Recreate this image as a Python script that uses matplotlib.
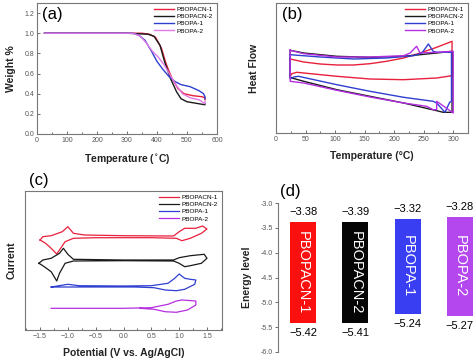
import numpy as np
import matplotlib
matplotlib.use("Agg")
import matplotlib.pyplot as plt

plt.rcParams['font.family'] = ['Liberation Sans', 'DejaVu Sans']

names = ['PBOPACN-1', 'PBOPACN-2', 'PBOPA-1', 'PBOPA-2']

# (a) TGA
tga_T = {
    'PBOPACN-1': [25, 100, 200, 300, 350, 375, 395, 415, 430, 450, 470, 490, 520, 550, 560, 560],
    'PBOPACN-2': [25, 100, 200, 300, 370, 390, 410, 425, 445, 465, 480, 500, 540, 560, 560],
    'PBOPA-1': [25, 100, 200, 300, 320, 340, 360, 380, 400, 420, 440, 460, 480, 510, 540, 555, 560, 560],
    'PBOPA-2': [25, 100, 200, 300, 320, 345, 365, 385, 405, 425, 445, 465, 485, 510, 540, 560, 560],
}
tga_w = {
    'PBOPACN-1': [1.0, 1.0, 1.0, 1.0, 1.0, 0.99, 0.96, 0.85, 0.70, 0.55, 0.45, 0.40, 0.38, 0.37, 0.36, 0.34],
    'PBOPACN-2': [1.0, 1.0, 1.0, 1.0, 0.99, 0.97, 0.88, 0.72, 0.55, 0.42, 0.35, 0.32, 0.30, 0.29, 0.30],
    'PBOPA-1': [1.0, 1.0, 1.0, 1.0, 1.0, 0.98, 0.93, 0.83, 0.72, 0.64, 0.57, 0.52, 0.49, 0.47, 0.43, 0.40, 0.37, 0.35],
    'PBOPA-2': [1.0, 1.0, 1.0, 1.0, 1.0, 0.97, 0.90, 0.82, 0.76, 0.68, 0.58, 0.48, 0.40, 0.36, 0.34, 0.30, 0.32],
}

# (b) DSC loops (a.u.)
dsc_T = {
    'PBOPACN-1': [24, 47, 75, 103, 131, 159, 187, 216, 244, 272, 298, 298, 272, 216, 159, 103, 47, 35, 27, 24, 24],
    'PBOPACN-2': [24, 47, 103, 159, 216, 244, 272, 298, 298, 283, 272, 216, 159, 103, 47, 27, 24, 24],
    'PBOPA-1': [24, 75, 131, 187, 233, 247, 258, 266, 272, 297, 297, 294, 286, 272, 266, 216, 159, 103, 38, 30, 24, 24],
    'PBOPA-2': [24, 47, 103, 159, 216, 227, 238, 244, 272, 300, 300, 272, 272, 266, 255, 216, 159, 103, 47, 24, 24],
}
dsc_h = {
    'PBOPACN-1': [74, 71, 69, 68, 68, 69.3, 71.7, 75, 80, 85.7, 91.7, 57.3, 55, 53.3, 54, 56.7, 60, 60.7, 59.3, 56.7, 74],
    'PBOPACN-2': [82.7, 80, 76.7, 75.7, 76.7, 78.3, 80, 81.7, 20.7, 20.7, 22.3, 30, 36.7, 43.3, 51.7, 55, 56, 82.7],
    'PBOPA-1': [78.3, 76, 74, 75, 77.3, 80, 89, 81.7, 80.7, 80.7, 31.7, 30.7, 20.7, 30, 31.7, 35.7, 41.7, 48.3, 56.7, 56, 54, 78.3],
    'PBOPA-2': [82.7, 79.3, 76, 76, 77.3, 80, 86.7, 80, 80.7, 81.7, 20, 31.7, 23.3, 23.3, 26.7, 30, 36, 42.7, 50, 51.7, 82.7],
}

# (c) CV loops (a.u.)
cv_E = {
    'PBOPACN-1': [-1.5, -1.45, -1.3, -1.1, -1.0, -0.9, -0.7, 0.0, 0.9, 1.0, 1.1, 1.3, 1.42, 1.5, 1.4, 1.2, 1.05, 0.95, 0.5, -0.5, -0.9, -1.05, -1.15, -1.2, -1.3, -1.4, -1.5],
    'PBOPACN-2': [-1.52, -1.45, -1.3, -1.15, -1.08, -1.0, -0.9, 0.0, 0.9, 1.0, 1.2, 1.45, 1.5, 1.4, 1.2, 1.1, 1.0, 0.9, 0.0, -0.9, -1.05, -1.15, -1.2, -1.3, -1.45, -1.52],
    'PBOPA-1': [-1.3, -1.0, -0.8, 0.0, 0.5, 0.8, 0.92, 1.0, 1.1, 1.2, 1.3, 1.28, 1.1, 0.95, 0.75, 0.55, 0.2, -1.3],
    'PBOPA-2': [-1.3, 0.0, 0.5, 0.8, 0.95, 1.05, 1.3, 1.3, 1.15, 0.95, 0.75, 0.55, 0.3],
}
cv_i = {
    'PBOPACN-1': [90, 93.3, 94.3, 98.3, 103.3, 96.7, 95, 94.3, 94, 98.3, 101.7, 101.7, 104, 101, 96.7, 91.7, 89.3, 91.7, 92.3, 92.3, 91.7, 88.3, 80, 76, 81.7, 86.7, 90],
    'PBOPACN-2': [66.7, 70, 71.7, 76.7, 81.7, 75.7, 70.7, 70, 70, 72.3, 74.3, 75.7, 71.7, 66.7, 64.3, 63.3, 66.7, 69, 69.3, 69, 66.7, 56.7, 49, 58.3, 64.3, 66.7],
    'PBOPA-1': [43, 45.7, 44.3, 44, 44.3, 46.7, 51.7, 56, 51.7, 50.7, 50, 45.7, 40.7, 39.3, 40, 42.3, 43, 43],
    'PBOPA-2': [21.7, 21.7, 22.3, 25.7, 29, 30, 29, 25, 20, 17.7, 18.3, 20.7, 21.7],
}

# (d) energy levels
lumo = [-3.38, -3.39, -3.32, -3.28]
homo = [-5.42, -5.41, -5.24, -5.27]

line_a = ['#e8203c', '#1a1a1a', '#2f3fd0', '#e07ae6']
line_b = ['#e8203c', '#1a1a1a', '#2f3fd0', '#b52ee0']
bar_colors = ['#fb1010', '#050505', '#3a3ef2', '#b447ee']

W, H = 474, 358
fig = plt.figure(figsize=(W / 100, H / 100), dpi=100)


def box(l, t, r, b):
    return [l / W, 1 - b / H, (r - l) / W, (b - t) / H]


def style(ax):
    for s in ax.spines.values():
        s.set_color('#777777')
        s.set_linewidth(0.8)
    ax.tick_params(which='both', direction='in', labelsize=5, colors='#555555',
                   length=2, width=0.6, pad=2)
    ax.tick_params(which='minor', length=1.2)


lab = dict(fontsize=7.5, fontweight='bold', color='#222222')
leg = dict(fontsize=4.6, frameon=False, handlelength=3.2, handletextpad=0.4,
           labelspacing=0.25, borderaxespad=0.2)

# (a)
ax1 = fig.add_axes(box(37, 3, 217, 134))
for n, c in zip(names, line_a):
    ax1.plot(tga_T[n], tga_w[n], color=c, lw=1.0, label=n)
ax1.set_xlim(0, 600)
ax1.set_ylim(0, 1.3)
ax1.set_xticks(np.arange(0, 601, 100))
ax1.set_xticks(np.arange(0, 601, 50), minor=True)
ax1.set_yticks(np.arange(0, 1.21, 0.2))
ax1.set_yticklabels(['%.1f' % v for v in np.arange(0, 1.21, 0.2)])
style(ax1)
ax1.set_xlabel('Temperature ($^{\\circ}$C)', labelpad=6, **lab)
ax1.set_ylabel('Weight %', labelpad=6, **lab)
ax1.text(0.03, 0.97, '(a)', transform=ax1.transAxes, fontsize=12, va='top')
ax1.legend(loc='upper right', **leg)

# (b)
ax2 = fig.add_axes(box(276, 3, 468, 133))
for n, c in zip(names, line_b):
    ax2.plot(dsc_T[n], dsc_h[n], color=c, lw=1.0, label=n)
ax2.set_xlim(0, 325)
ax2.set_ylim(0, 130)
ax2.set_xticks(np.arange(0, 301, 50))
ax2.set_xticks(np.arange(0, 326, 25), minor=True)
ax2.set_yticks([])
style(ax2)
ax2.set_xlabel('Temperature (°C)', labelpad=6, **lab)
ax2.set_ylabel('Heat Flow', labelpad=12, **lab)
ax2.text(0.03, 0.97, '(b)', transform=ax2.transAxes, fontsize=12, va='top')
ax2.legend(loc='upper right', **leg)

# (c)
ax3 = fig.add_axes(box(25, 191, 222, 330))
for n, c in zip(names, line_b):
    ax3.plot(cv_E[n], cv_i[n], color=c, lw=0.9, label=n)
ax3.set_xlim(-1.77, 1.77)
ax3.set_ylim(0, 139)
ax3.set_xticks(np.arange(-1.5, 1.51, 0.5))
ax3.set_xticks(np.arange(-1.75, 1.76, 0.25), minor=True)
ax3.set_yticks([])
style(ax3)
ax3.set_xlabel('Potential (V vs. Ag/AgCl)', labelpad=6, **lab)
ax3.set_ylabel('Current', labelpad=6, **lab)
ax3.text(0.02, 1.02, '(c)', transform=ax3.transAxes, fontsize=12, va='bottom')
ax3.legend(loc='upper right', **leg)

# (d)
ax4 = fig.add_axes(box(278, 203, 474, 352))
x = np.arange(len(names))
ax4.bar(x, np.array(lumo) - np.array(homo), bottom=homo, width=0.5,
        color=bar_colors)
for i, n in enumerate(names):
    mid = (lumo[i] + homo[i]) / 2
    ax4.text(x[i], mid, n, rotation=-90, color='white', fontsize=10.5,
             ha='center', va='center')
    ax4.text(x[i], lumo[i] + 0.1, '\u2212%.2f' % abs(lumo[i]), ha='center',
             va='bottom', fontsize=8, clip_on=False)
    ax4.text(x[i], homo[i] - 0.1, '\u2212%.2f' % abs(homo[i]), ha='center',
             va='top', fontsize=8, clip_on=False)
ax4.set_xlim(-0.48, 3.27)
ax4.set_ylim(-6.0, -3.0)
ax4.set_yticks(np.arange(-6.0, -2.99, 0.5))
ax4.set_yticklabels(['%.1f' % v for v in np.arange(-6.0, -2.99, 0.5)])
ax4.set_xticks([])
for s in ['top', 'right', 'bottom']:
    ax4.spines[s].set_visible(False)
ax4.spines['left'].set_color('#777777')
ax4.spines['left'].set_linewidth(0.8)
ax4.tick_params(axis='y', direction='out', labelsize=5, colors='#555555',
                length=2, width=0.6, pad=2)
ax4.set_ylabel('Energy level', labelpad=6, **lab)
ax4.text(0.01, 1.03, '(d)', transform=ax4.transAxes, fontsize=12, va='bottom')

fig.savefig('out.png', dpi=100)
